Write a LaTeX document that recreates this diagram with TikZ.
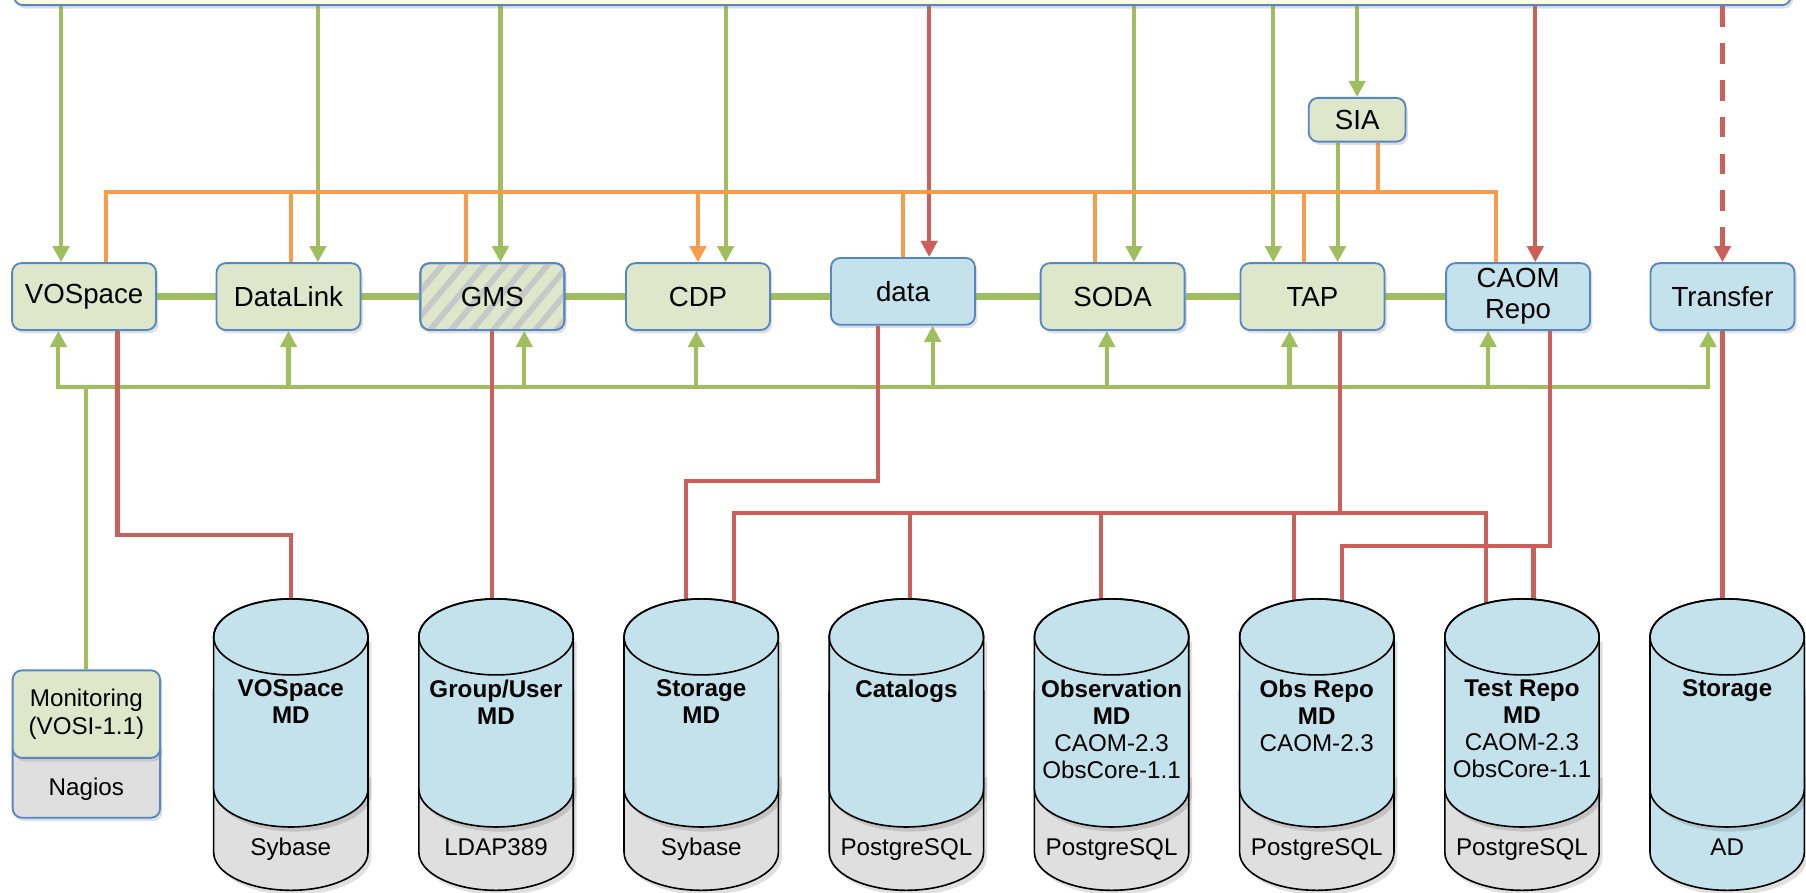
\documentclass[tikz,border=0pt]{standalone}
\usepackage{fontspec}
\setmainfont{Liberation Sans}
\usetikzlibrary{arrows.meta, shadows, patterns.meta, backgrounds}

\begin{document}
\begin{tikzpicture}[x=1pt, y=1pt,
    svc/.style={rectangle, rounded corners=8pt, draw=borderBlue, line width=1.6pt,
      fill=fillGreen, minimum width=125pt, minimum height=58pt, inner sep=2pt,
      align=center, font=\fontsize{24}{27}\selectfont,
      drop shadow={shadow xshift=2pt, shadow yshift=-3pt, opacity=0.25}},
    svcblue/.style={svc, fill=fillBlue},
    gline/.style={draw=lineGreen, line width=3.6pt},
    oline/.style={draw=lineOrange, line width=3.6pt},
    rline/.style={draw=lineRed, line width=3.6pt},
    glink/.style={draw=lineGreen, line width=6.5pt},
    headon/.style={-{Triangle[width=14pt,length=14pt]}},
    headboth/.style={{Triangle[width=14pt,length=14pt]}-{Triangle[width=14pt,length=14pt]}},
    dbline/.style={draw=black, line width=1.4pt},
    dbtext/.style={align=center, inner sep=0pt, font=\fontsize{21}{23.5}\selectfont},
    dblabel/.style={inner sep=0pt, font=\fontsize{21}{24}\selectfont}]

    \definecolor{lineGreen}{HTML}{9FBF5E}
    \definecolor{lineOrange}{HTML}{F89C4C}
    \definecolor{lineRed}{HTML}{CD5F5A}
    \definecolor{borderBlue}{HTML}{5687C4}
    \definecolor{fillGreen}{HTML}{DEE7C9}
    \definecolor{fillBlue}{HTML}{C4E2EC}
    \definecolor{fillGrey}{HTML}{DFDFDF}
    \definecolor{fillYellow}{HTML}{FFFBE1}
    \definecolor{hatchGrey}{HTML}{C8C8C8}

    % Page size
    \useasboundingbox (0,0) rectangle (1568,775);

    % Portal bar, cut off at the top
    \node[svc, fill=fillYellow, minimum width=1543pt, minimum height=40pt] (portal) at (783.5,790.5) {};

    % Services
    \node[svc] (vos) at (73,517.5) {VOSpace};
    \node[svc] (dl) at (250.5,517.5) {DataLink};
    \node[svc, postaction={pattern={Lines[angle=50, distance=14pt, line width=5pt]}, pattern color=hatchGrey},
      postaction={draw=borderBlue, line width=1.6pt}] (gms) at (427.5,517.5) {GMS};
    \node[svc] (cdp) at (606,517.5) {CDP};
    \node[svcblue] (data) at (784,522) {data};
    \node[svc] (soda) at (966,517.5) {SODA};
    \node[svc] (tap) at (1139.5,517.5) {TAP};
    \node[svcblue] (caom) at (1318,517.5) {CAOM\\Repo};
    \node[svcblue] (tr) at (1495.5,517.5) {Transfer};
    \node[svc, minimum width=84pt, minimum height=38pt] (sia) at (1178.3,671) {SIA};

    % Monitoring
    \node[svc, fill=fillGrey, minimum width=128pt, minimum height=68pt, text height=30pt, text depth=0pt,
      font=\fontsize{21}{24}\selectfont] (nagios) at (75,99) {Nagios};
    \node[svc, minimum width=128pt, minimum height=76pt, font=\fontsize{21}{24}\selectfont] (mon) at (75,155) {Monitoring\\(VOSI-1.1)};

    % Databases
    \foreach \k/\nm/\txt/\base/\bcol in {
        0/vmd/{\textbf{VOSpace}\\\textbf{MD}}/Sybase/fillGrey,
        1/gum/{\textbf{Group/User}\\\textbf{MD}}/LDAP389/fillGrey,
        2/smd/{\textbf{Storage}\\\textbf{MD}}/Sybase/fillGrey,
        3/cat/{\textbf{Catalogs}}/PostgreSQL/fillGrey,
        4/omd/{\textbf{Observation}\\\textbf{MD}\\CAOM-2.3\\ObsCore-1.1}/PostgreSQL/fillGrey,
        5/orm/{\textbf{Obs Repo}\\\textbf{MD}\\CAOM-2.3}/PostgreSQL/fillGrey,
        6/trm/{\textbf{Test Repo}\\\textbf{MD}\\CAOM-2.3\\ObsCore-1.1}/PostgreSQL/fillGrey,
        7/sto/{\textbf{Storage}}/AD/fillBlue}
    {
        \pgfmathsetmacro{\cx}{252.5+178.15*\k}
        % shadow
        \fill[black, opacity=0.12] (\cx-64,218) -- (\cx-64,31)
            arc[start angle=180, end angle=360, x radius=67, y radius=33] -- (\cx+70,218) -- cycle;
        % engine part
        \filldraw[dbline, fill=\bcol] (\cx-67,175) -- (\cx-67,35)
            arc[start angle=180, end angle=360, x radius=67, y radius=33] -- (\cx+67,175) -- cycle;
        % data part
        \fill[black, opacity=0.12] (\cx-64,86)
            arc[start angle=180, end angle=360, x radius=67, y radius=33] -- (\cx+70,100) -- (\cx-64,100) -- cycle;
        \filldraw[dbline, fill=fillBlue] (\cx-67,222) -- (\cx-67,90)
            arc[start angle=180, end angle=360, x radius=67, y radius=33] -- (\cx+67,222)
            arc[start angle=0, end angle=180, x radius=67, y radius=33] -- cycle;
        \draw[dbline] (\cx,222) ellipse [x radius=67, y radius=33];
        \node[minimum width=134pt, minimum height=253pt, inner sep=0pt] (\nm) at (\cx,128.5) {};
        \node[dbtext, anchor=north] (\nm-t) at (\cx,185) {\txt};
        \node[dblabel, anchor=base] (\nm-b) at (\cx,32.5) {\base};
    }

    \begin{pgfonlayer}{background}
    % Links between services
    \foreach \a/\b in {vos/dl, dl/gms, gms/cdp, cdp/data, data/soda, soda/tap, tap/caom}
        \draw[glink] (\a.east |- vos) -- (\b.west |- vos);

    % Calls from the portal
    \foreach \n/\dx [count=\k] in {vos/-20, dl/25.5, gms/7, cdp/24, soda/18.5, tap/-34, sia/0}
    {
        \coordinate (gin\k) at ([xshift=\dx pt]\n.north);
        \draw[gline, headon] (gin\k |- portal.south) -- (gin\k);
    }
    \coordinate (rin1) at ([xshift=22.7pt]data.north);
    \coordinate (rin2) at ([xshift=15pt]caom.north);
    \draw[rline, headon] (rin1 |- portal.south) -- (rin1);
    \draw[rline, headon] (rin2 |- portal.south) -- (rin2);
    \draw[rline, headon, dash pattern=on 18pt off 14pt] (tr.north |- portal.south) -- (tr.north);

    % SIA to TAP
    \coordinate (s2t) at ([xshift=-17pt]sia.south);
    \draw[gline, headon] (s2t) -- (s2t |- tap.north);

    % Orange bus
    \coordinate (obus) at (0,608);
    \coordinate (ovos) at ([xshift=19pt]vos.north);
    \coordinate (ocaom) at ([xshift=-19.4pt]caom.north);
    \draw[oline] (ovos) |- (obus -| ocaom) -- (ocaom);
    \foreach \n/\dx in {dl/2, gms/-23, data/0, soda/-15.5, tap/-7}
    {
        \coordinate (o\n) at ([xshift=\dx pt]\n.north);
        \draw[oline] (o\n |- obus) -- (o\n);
    }
    \draw[oline, headon] (cdp.north |- obus) -- (cdp.north);
    \coordinate (osia) at ([xshift=18pt]sia.south);
    \draw[oline] (osia) -- (osia |- obus);

    % Green bus
    \coordinate (gbus) at (0,439);
    \coordinate (gvos) at ([xshift=-22.3pt]vos.south);
    \coordinate (gtr) at ([xshift=-12.5pt]tr.south);
    \draw[gline, headboth] (gvos) |- (gbus -| gtr) -- (gtr);
    \foreach \n/\dx in {dl/0, gms/27.7, cdp/-1.4, data/25.7, soda/-5, tap/-20, caom/-26}
    {
        \coordinate (u\n) at ([xshift=\dx pt]\n.south);
        \draw[gline, headon] (u\n |- gbus) -- (u\n);
    }
    \draw[gline] (mon.north |- gbus) -- (mon.north);

    % Red to databases
    \coordinate (lvA) at (0,310.5);
    \coordinate (lvB) at (0,357.4);
    \coordinate (lvC) at (0,329.3);
    \coordinate (lvD) at (0,301);
    \coordinate (rvos) at ([xshift=29pt]vos.south);
    \coordinate (rvmd) at ([yshift=-5pt]vmd.north);
    \draw[rline] (rvos) |- (lvA -| rvmd) -- (rvmd);
    \coordinate (rgum) at ([yshift=-5pt]gum.north);
    \draw[rline] (gms.south) -- (gms.south |- rgum);
    \coordinate (rdata) at ([xshift=-22pt]data.south);
    \coordinate (rsmd1) at ([xshift=-13pt, yshift=-5pt]smd.north);
    \draw[rline] (rdata) |- (lvB -| rsmd1) -- (rsmd1);
    \coordinate (rtap) at ([xshift=24pt]tap.south);
    \draw[rline] (rtap) -- (rtap |- lvC);
    \coordinate (rsmd2) at ([xshift=28.5pt, yshift=-5pt]smd.north);
    \coordinate (rtrm1) at ([xshift=-31pt, yshift=-5pt]trm.north);
    \draw[rline] (rsmd2) |- (lvC -| rtrm1) -- (rtrm1);
    \foreach \n/\dx in {cat/3, omd/-9, orm/-20}
    {
        \coordinate (r\n) at ([xshift=\dx pt, yshift=-5pt]\n.north);
        \draw[rline] (r\n |- lvC) -- (r\n);
    }
    \coordinate (rcaom) at ([xshift=27.6pt]caom.south);
    \coordinate (rorm2) at ([xshift=22pt, yshift=-5pt]orm.north);
    \coordinate (rtrm2) at ([xshift=10pt, yshift=-5pt]trm.north);
    \draw[rline] (rcaom) |- (lvD -| rorm2) -- (rorm2);
    \draw[rline] (rtrm2 |- lvD) -- (rtrm2);
    \coordinate (rsto) at ([yshift=-5pt]sto.north);
    \draw[rline] (tr.south) -- (tr.south |- rsto);
    \end{pgfonlayer}

\end{tikzpicture}
\end{document}
